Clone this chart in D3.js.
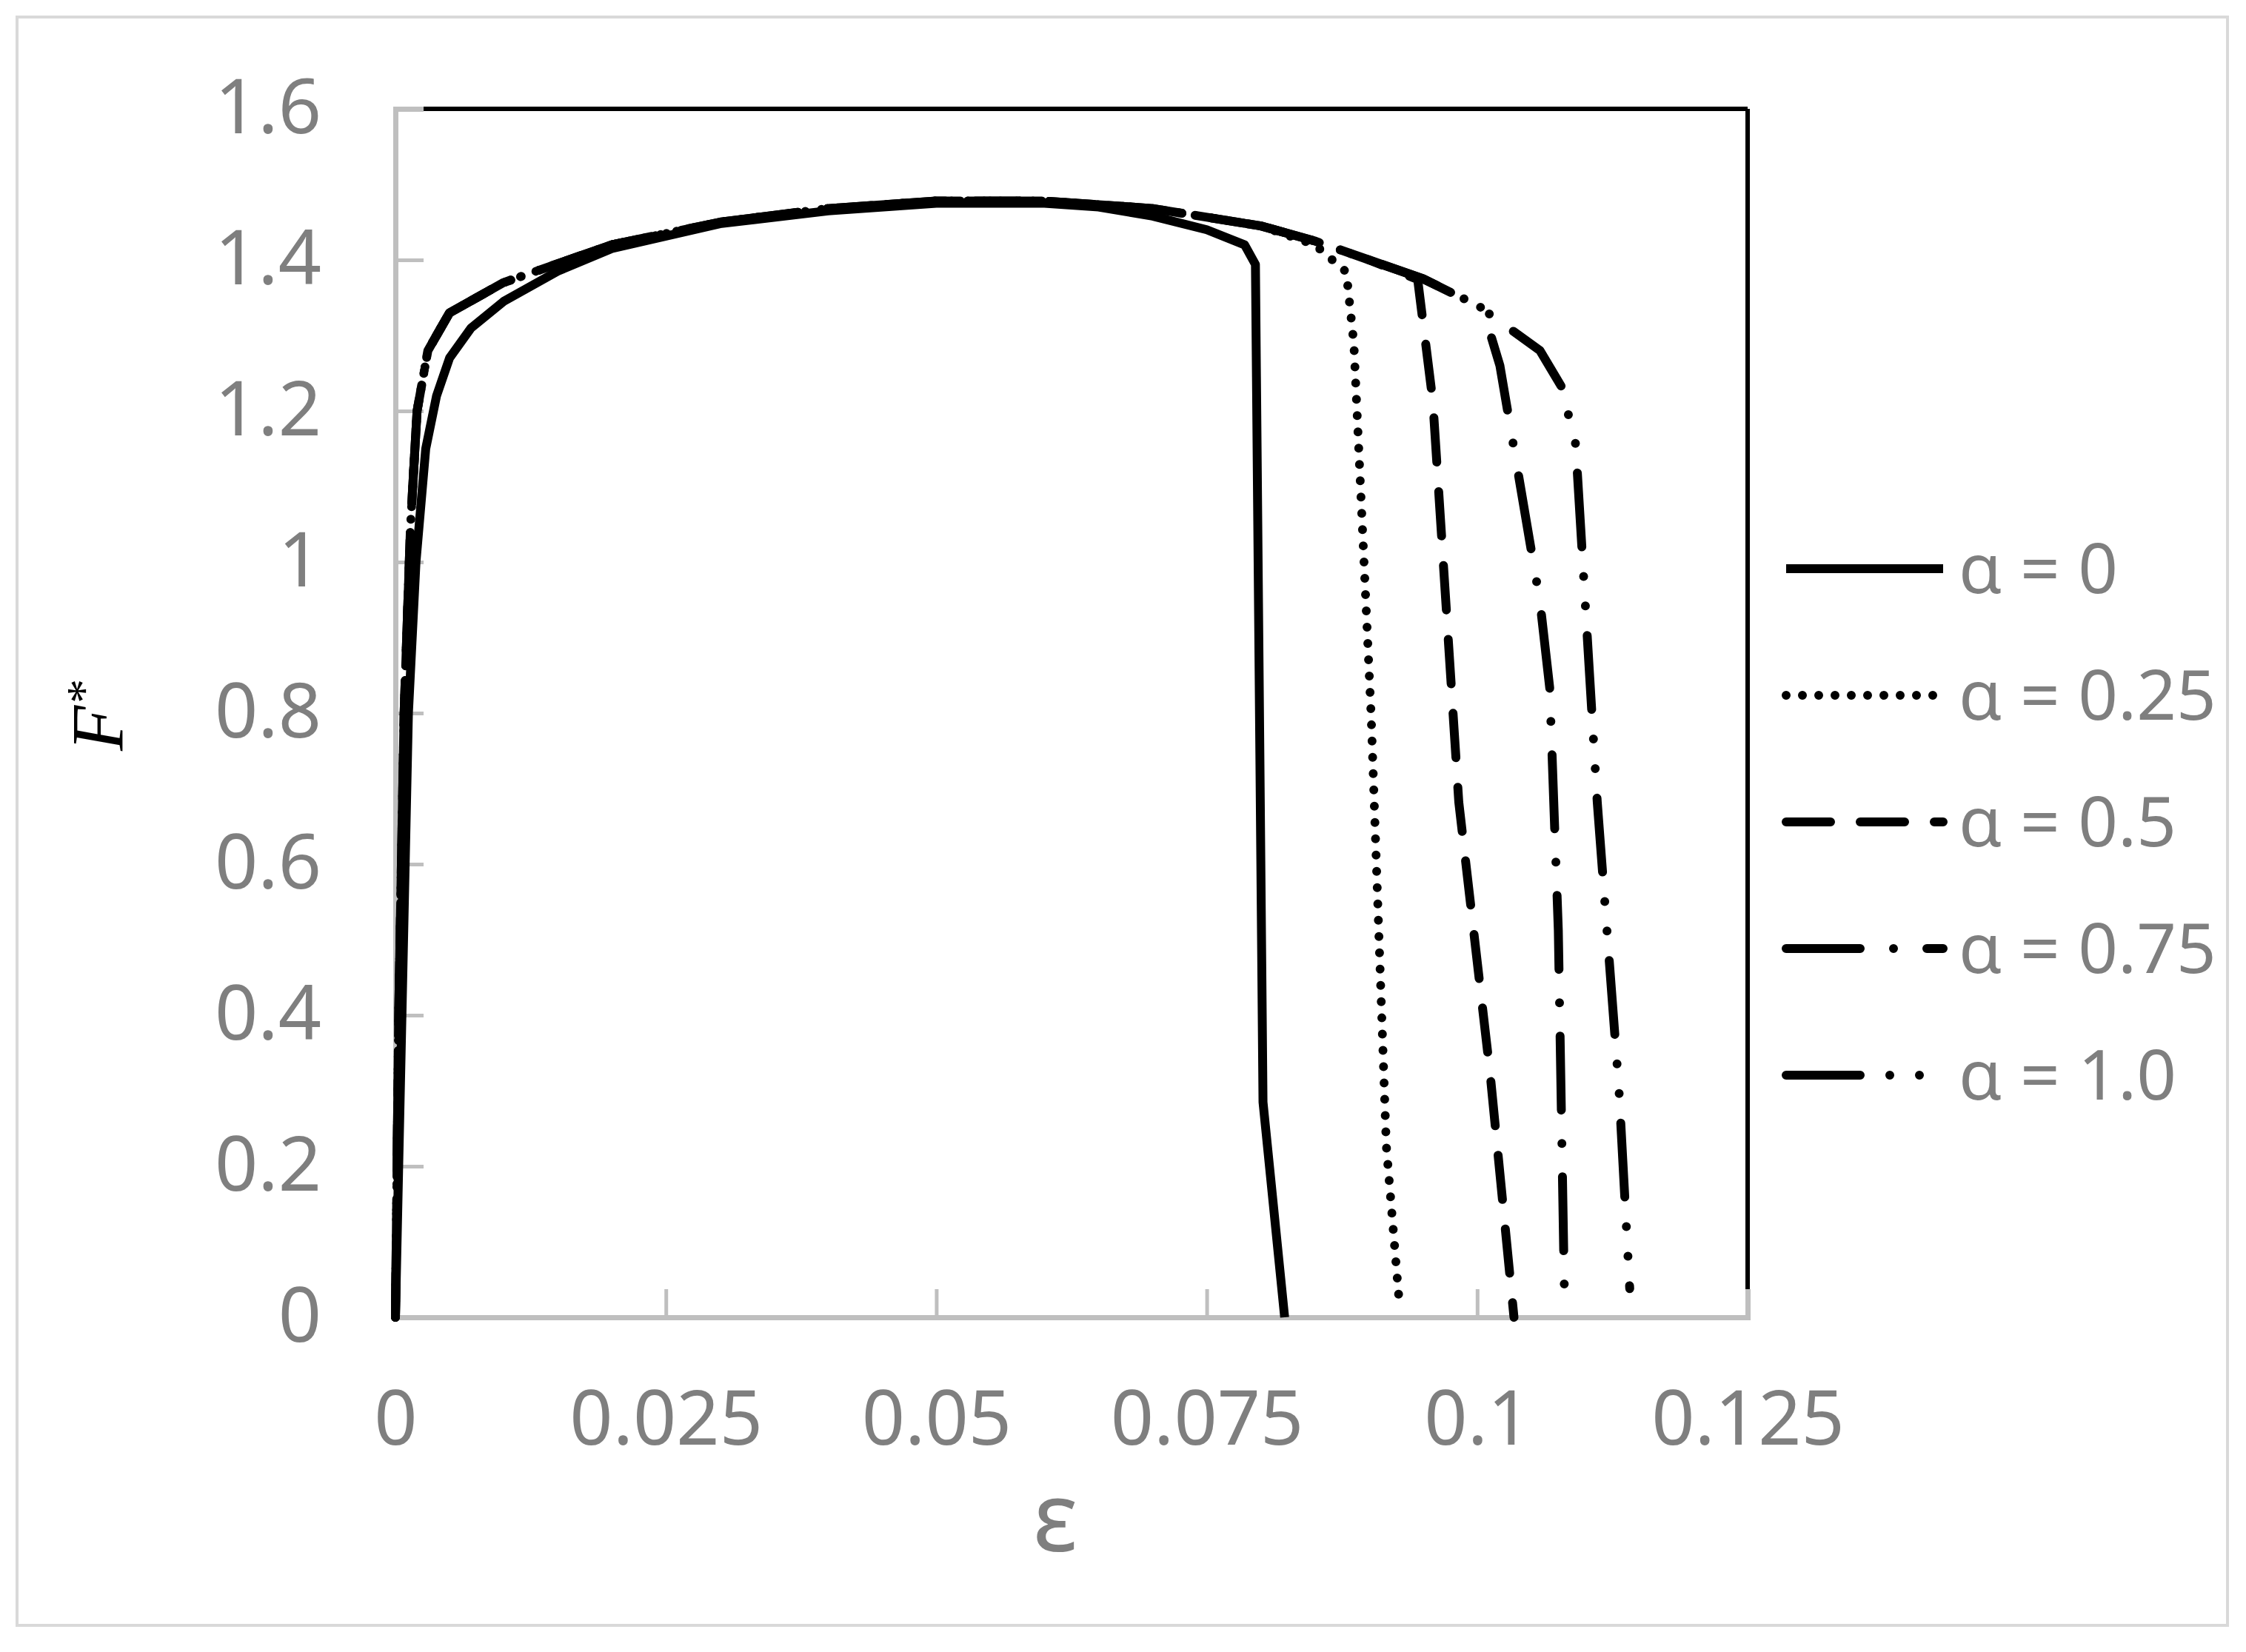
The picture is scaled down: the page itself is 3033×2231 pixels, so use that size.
<!DOCTYPE html>
<html>
<head>
<meta charset="utf-8">
<script src="https://cdn.jsdelivr.net/npm/d3@7"></script>
<style>
  body { margin: 0; background: #fff; }
  text { font-family: "Noto Sans", "Open Sans", sans-serif; }
</style>
</head>
<body>
<div id="chart"></div>
<script>
// strain / force data
var rise = [[0,0],[0.0003,0.4],[0.0008,0.8],[0.0014,1.05],[0.002,1.2],[0.003,1.28],[0.005,1.33],[0.01,1.37],
            [0.02,1.42],[0.03,1.45],[0.04,1.468],[0.05,1.478],[0.06,1.478],[0.07,1.468]];
var alpha0 = [[0,0],[0.0006,0.4],[0.0012,0.8],[0.0019,1.0],[0.0028,1.15],[0.0038,1.22],[0.005,1.27],[0.007,1.31],
              [0.01,1.345],[0.015,1.385],[0.02,1.415],[0.03,1.448],[0.04,1.465],[0.05,1.475],[0.06,1.475],
              [0.065,1.47],[0.07,1.458],[0.075,1.44],[0.0785,1.42],[0.0795,1.394],[0.0802,0.285],[0.0822,0]];
var alpha025 = rise.concat([[0.08,1.445],[0.085,1.42],[0.0879,1.384],[0.0886,1.289],[0.0902,0.796],[0.0916,0.227],[0.0928,0.019]]);
var alpha05 = rise.concat([[0.08,1.445],[0.085,1.425],[0.09,1.4],[0.0945,1.374],[0.0959,1.213],[0.0983,0.682],[0.1012,0.322],[0.1034,0]]);
var alpha075 = rise.concat([[0.08,1.445],[0.085,1.425],[0.09,1.4],[0.095,1.375],[0.1005,1.336],[0.1021,1.26],[0.1058,0.948],[0.1067,0.834],[0.1075,0.512],[0.1081,0]]);
var alpha1 = rise.concat([[0.08,1.445],[0.085,1.425],[0.09,1.4],[0.095,1.375],[0.1,1.34],[0.1058,1.28],[0.1078,1.232],[0.1091,1.156],[0.1111,0.682],[0.1131,0.303],[0.1141,0.038]]);

var seriesNames = ["α = 0", "α = 0.25", "α = 0.5", "α = 0.75", "α = 1.0"];
var seriesData = [alpha0, alpha025, alpha05, alpha075, alpha1];
var dashes = ["none", "0 22", "60 40", "100 45 0 45", "100 40 0 40 0 40"];

var xTicks = [0, 0.025, 0.05, 0.075, 0.1, 0.125];
var xTickLabels = ["0", "0.025", "0.05", "0.075", "0.1", "0.125"];
var yTicks = [0, 0.2, 0.4, 0.6, 0.8, 1, 1.2, 1.4, 1.6];
var yTickLabels = ["0", "0.2", "0.4", "0.6", "0.8", "1", "1.2", "1.4", "1.6"];

var W = 3033, H = 2231;
var plotLeft = 534, plotRight = 2360, plotTop = 147, plotBottom = 1779;

var x = d3.scaleLinear().domain([0, 0.125]).range([plotLeft, plotRight]);
var y = d3.scaleLinear().domain([0, 1.6]).range([plotBottom, plotTop]);

var svg = d3.select("#chart").append("svg").attr("width", W).attr("height", H);

svg.append("rect").attr("x", 23).attr("y", 23).attr("width", 2985).attr("height", 2172)
   .attr("fill", "#fff").attr("stroke", "#d9d9d9").attr("stroke-width", 4);

// black top / right frame
svg.append("line").attr("x1", plotLeft).attr("x2", plotRight).attr("y1", plotTop).attr("y2", plotTop)
   .attr("stroke", "#000").attr("stroke-width", 6);
svg.append("line").attr("x1", plotRight).attr("x2", plotRight).attr("y1", plotTop).attr("y2", plotBottom)
   .attr("stroke", "#000").attr("stroke-width", 6);

var yAxis = svg.append("g").attr("transform", "translate(" + plotLeft + ",0)")
   .call(d3.axisLeft(y).tickValues(yTicks).tickSize(-38).tickPadding(100)
     .tickFormat(function(d, i) { return yTickLabels[i]; }));
var xAxis = svg.append("g").attr("transform", "translate(0," + plotBottom + ")")
   .call(d3.axisBottom(x).tickValues(xTicks).tickSize(-38).tickPadding(100)
     .tickFormat(function(d, i) { return xTickLabels[i]; }));
[xAxis, yAxis].forEach(function(a) {
  a.select(".domain").attr("stroke", "#bfbfbf").attr("stroke-width", 7);
  a.selectAll(".tick line").attr("stroke", "#bfbfbf").attr("stroke-width", 5);
  a.selectAll(".tick text").attr("fill", "#7f7f7f").style("font-size", "102px");
});

var line = d3.line().x(function(d) { return x(d[0]); }).y(function(d) { return y(d[1]); });

seriesData.forEach(function(s, i) {
  svg.append("path").datum(s).attr("d", line).attr("fill", "none")
     .attr("stroke", "#000").attr("stroke-width", 12)
     .attr("stroke-linecap", i == 0 ? "butt" : "round")
     .attr("stroke-linejoin", "round")
     .attr("stroke-dasharray", dashes[i]);
});

// legend
var legend = svg.append("g");
seriesNames.forEach(function(n, i) {
  var ly = 768 + i * 171;
  legend.append("line").attr("x1", 2412).attr("x2", 2624).attr("y1", ly).attr("y2", ly)
     .attr("stroke", "#000").attr("stroke-width", 12).attr("stroke-linecap", i == 0 ? "butt" : "round")
     .attr("stroke-dasharray", dashes[i]);
  legend.append("text").attr("x", 2645).attr("y", ly).attr("dy", "0.35em")
     .attr("fill", "#7f7f7f").style("font-size", "94px").text(n);
});

svg.append("text").attr("transform", "translate(165,967) rotate(-90)")
   .attr("text-anchor", "middle").style("font-family", "'Liberation Serif', serif")
   .style("font-style", "italic").style("font-size", "100px").attr("fill", "#000")
   .html("F<tspan dy='-30' font-size='66px'>*</tspan>");

svg.append("text").attr("x", 1425).attr("y", 2095).attr("text-anchor", "middle")
   .attr("fill", "#7f7f7f").style("font-size", "130px").text("ε");
</script>
</body>
</html>
